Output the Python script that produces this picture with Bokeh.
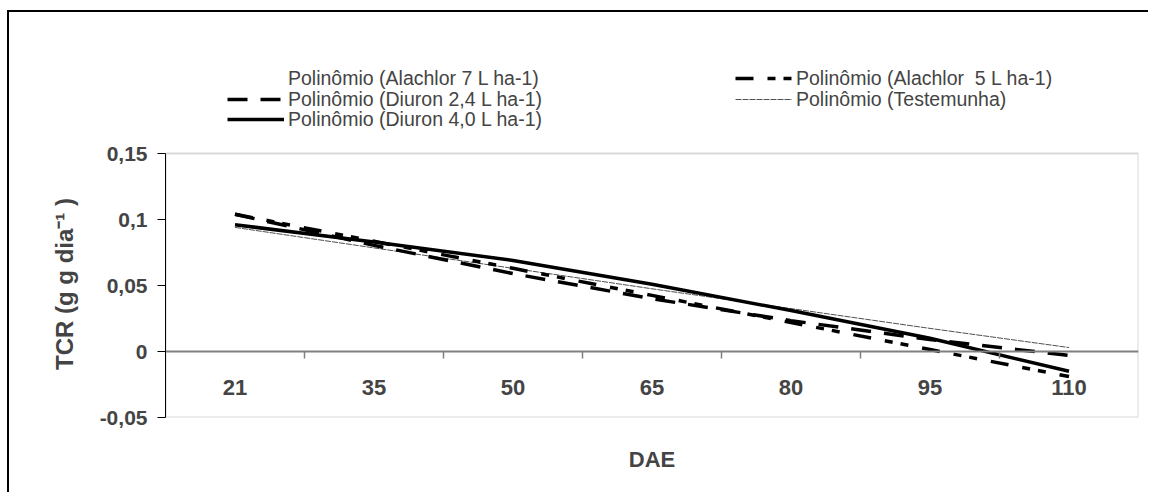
from bokeh.plotting import figure
from bokeh.models import (LinearAxis, FixedTicker, Range1d, Legend, LegendItem,
                          ColumnDataSource, BoxAnnotation)
from bokeh.embed import file_html
from bokeh.resources import INLINE

# ---------------- data ----------------
dae = ["21", "35", "50", "65", "80", "95", "110"]
alachlor7 = [0.100, 0.083, 0.066, 0.049, 0.032, 0.016, -0.002]
alachlor5 = [0.104, 0.0835, 0.063, 0.0425, 0.022, 0.0015, -0.019]
diuron24 = [0.104, 0.0804, 0.059, 0.040, 0.0234, 0.009, -0.003]
testemunha = [0.094, 0.0785, 0.063, 0.0475, 0.0325, 0.0175, 0.003]
diuron40 = [0.096, 0.083, 0.069, 0.051, 0.031, 0.010, -0.015]

y_ticks = [-0.05, 0, 0.05, 0.1, 0.15]
y_tick_labels = ["-0,05", "0", "0,05", "0,1", "0,15"]
y_min, y_max = -0.05, 0.15

labels = {
    "a7": "Polinômio (Alachlor 7 L ha-1)",
    "a5": "Polinômio (Alachlor  5 L ha-1)",
    "d24": "Polinômio (Diuron 2,4 L ha-1)",
    "t": "Polinômio (Testemunha)",
    "d40": "Polinômio (Diuron 4,0 L ha-1)",
}

idx = list(range(1, len(dae) + 1))
src = ColumnDataSource(dict(x=idx, a7=alachlor7, a5=alachlor5, d24=diuron24,
                            t=testemunha, d40=diuron40))

FONT = "Liberation Sans"

# frame extended upward so that the legend (which sits above the plot area) is inside it
PX_PER_UNIT = 1320.0
legend_room = 103 / PX_PER_UNIT
p = figure(width=1141, height=482,
           x_range=Range1d(0.5, len(dae) + 0.5),
           y_range=Range1d(y_min, y_max + legend_room),
           output_backend="svg", toolbar_location=None,
           x_axis_location=None, y_axis_location=None,
           min_border_left=156, min_border_right=12,
           min_border_top=38, min_border_bottom=77)
p.styles = {"margin-left": "7px", "margin-top": "10px",
            "border-left": "2px solid black", "border-top": "2px solid black"}
p.xgrid.visible = False
p.ygrid.visible = False
p.outline_line_color = None
p.background_fill_color = "white"
p.border_fill_color = "white"

# plot-area box
p.add_layout(BoxAnnotation(left=0.5, right=len(dae) + 0.5, bottom=y_min, top=y_max,
                           fill_alpha=0, line_color="#808080", line_width=2,
                           level="underlay"))

# ---------------- axes ----------------
# trailing no-break spaces keep the title centred on the plot area (not on the taller frame)
y_title = "TCR (g g dia⁻¹ )" + "\u00a0" * 15
yaxis = LinearAxis(ticker=FixedTicker(ticks=y_ticks), bounds=(y_min, y_max),
                   major_label_overrides=dict(zip(y_ticks, y_tick_labels)),
                   axis_label=y_title,
                   axis_label_text_font=FONT, axis_label_text_font_style="bold",
                   axis_label_text_font_size="24px", axis_label_standoff=19,
                   major_label_text_font=FONT, major_label_text_font_style="bold",
                   major_label_text_font_size="21px", major_label_standoff=10,
                   axis_line_color="black", axis_line_width=1,
                   major_tick_line_color="black", major_tick_out=8, major_tick_in=0,
                   minor_tick_line_color=None)
p.add_layout(yaxis, "left")

title_axis = LinearAxis(ticker=FixedTicker(ticks=[]), axis_label="DAE",
                        axis_label_text_font=FONT, axis_label_text_font_style="bold",
                        axis_label_text_font_size="22px", axis_label_standoff=29,
                        axis_line_color=None, major_tick_line_color=None,
                        minor_tick_line_color=None, major_label_standoff=0,
                        major_tick_out=0, major_tick_in=0)
p.add_layout(title_axis, "below")

bounds = [i + 0.5 for i in idx[:-1]]
xtick_axis = LinearAxis(ticker=FixedTicker(ticks=bounds), fixed_location=0,
                        major_label_overrides={b: "" for b in bounds},
                        axis_line_color="#808080", axis_line_width=2,
                        major_tick_line_color="#808080", major_tick_line_width=1.5,
                        major_tick_out=7, major_tick_in=0,
                        minor_tick_line_color=None)
p.add_layout(xtick_axis, "below")

xlab_axis = LinearAxis(ticker=FixedTicker(ticks=idx), fixed_location=0,
                       major_label_overrides=dict(zip(idx, dae)),
                       major_label_text_font=FONT, major_label_text_font_style="bold",
                       major_label_text_font_size="22px", major_label_standoff=28,
                       axis_line_color=None, major_tick_line_color=None,
                       minor_tick_line_color=None, major_tick_out=0, major_tick_in=0)
p.add_layout(xlab_axis, "below")

# ---------------- lines ----------------
r_a7 = p.line("x", "a7", source=src, line_color="white", line_width=1)
r_t = p.line("x", "t", source=src, line_color="#505050", line_width=1, line_dash="6 1")
r_d24 = p.line("x", "d24", source=src, line_color="black", line_width=3.5, line_dash="20 13")
r_a5 = p.line("x", "a5", source=src, line_color="black", line_width=3.5,
              line_dash="18 14 8 8 8 14")
r_d40 = p.line("x", "d40", source=src, line_color="black", line_width=3.5)

# ---------------- legend (Excel-like rows, two columns, above the plot area) ----------------
common = dict(orientation="horizontal",
              label_text_font=FONT, label_text_font_size="19.5px",
              glyph_width=57, glyph_height=24, label_height=24, label_width=446,
              label_standoff=4, spacing=1, padding=0, margin=0,
              border_line_alpha=0, background_fill_alpha=0)
rows = [
    ([("a7", r_a7), ("a5", r_a5)], (62, 327)),
    ([("d24", r_d24), ("t", r_t)], (62, 306)),
    ([("d40", r_d40)], (62, 286)),
]
for items, loc in rows:
    p.add_layout(Legend(items=[LegendItem(label=labels[k], renderers=[r]) for k, r in items],
                        location=loc, **common))

open("out.html", "w").write(file_html(p, INLINE))
